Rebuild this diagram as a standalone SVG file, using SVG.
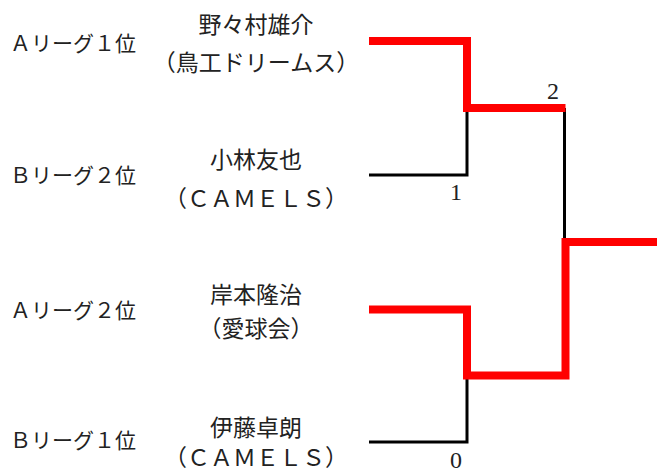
<svg xmlns="http://www.w3.org/2000/svg" width="657" height="471" viewBox="0 0 657 471">
<style>
.lbl{font-family:"Liberation Serif","Noto Sans CJK JP",serif;font-size:21px;fill:#222}
.nm{font-family:"Noto Sans CJK JP",sans-serif;font-size:23px;fill:#222;text-anchor:middle}
.sc{font-family:"Liberation Serif",serif;font-size:24px;fill:#222;text-anchor:middle}
.blk{fill:none;stroke:#000;stroke-width:3;stroke-linejoin:miter;stroke-linecap:butt}
.red{fill:none;stroke:#ff0000;stroke-width:8;stroke-linejoin:miter;stroke-linecap:butt}
</style>
<rect width="657" height="471" fill="#fff"/>
<g id="team-a1">
<text class="lbl" x="10" y="51">Ａリーグ１位</text>
<text class="nm" x="256" y="33">野々村雄介</text>
<text class="nm" x="256" y="71">（鳥工ドリームス）</text>
</g>
<g id="team-b2">
<text class="lbl" x="10" y="183">Ｂリーグ２位</text>
<text class="nm" x="256" y="168">小林友也</text>
<text class="nm" x="256" y="207">（ＣＡＭＥＬＳ）</text>
</g>
<g id="team-a2">
<text class="lbl" x="10" y="318">Ａリーグ２位</text>
<text class="nm" x="256" y="303">岸本隆治</text>
<text class="nm" x="256" y="337">（愛球会）</text>
</g>
<g id="team-b1">
<text class="lbl" x="10" y="448">Ｂリーグ１位</text>
<text class="nm" x="256" y="436">伊藤卓朗</text>
<text class="nm" x="256" y="466">（ＣＡＭＥＬＳ）</text>
</g>
<g id="connectors">
<path class="blk" d="M369,175 H467 V108"/>
<path class="blk" d="M369,442 H467 V375"/>
<path class="blk" d="M564.5,108 V242"/>
<path class="red" d="M369,41 H467 V108 H565.5"/>
<path class="red" d="M369,309.5 H467 V375.5 H565.5 V242 H657"/>
</g>
<g id="scores">
<text class="sc" x="456" y="200">1</text>
<text class="sc" x="553" y="99">2</text>
<text class="sc" x="456" y="468">0</text>
</g>
</svg>
